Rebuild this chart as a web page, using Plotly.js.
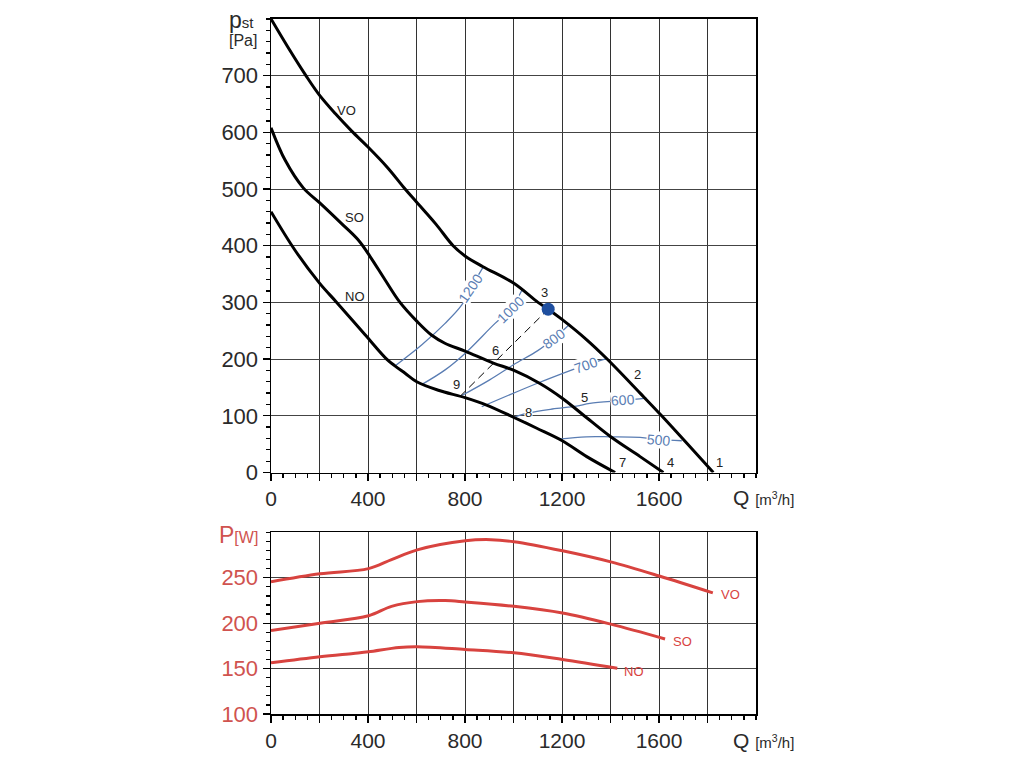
<!DOCTYPE html>
<html>
<head>
<meta charset="utf-8">
<script src="https://cdn.plot.ly/plotly-3.0.1.min.js"></script>
<style>
  html, body { margin: 0; padding: 0; background: #fff; }
  #myDiv { width: 1024px; height: 768px; }
</style>
</head>
<body>
<div id="myDiv"></div>
<script>
// pressure curves, Q [m3/h] -> pst [Pa]
var qVO = [0, 70, 144, 199, 265, 333, 400, 480, 553, 600, 680, 751, 800, 874, 1000, 1101, 1143, 1200, 1302, 1384, 1522, 1611, 1824];
var pVO = [800, 750, 700, 666, 633, 602, 574, 538, 500, 477, 438, 400, 382, 363, 334, 300, 288, 270, 234, 201, 140, 100, 0];

var qSO = [0, 58, 133, 200, 291, 360, 410, 470, 532, 601, 663, 717, 800, 917, 1002, 1109, 1201, 1289, 1401, 1522, 1618];
var pSO = [608, 551, 502, 476, 439, 410, 380, 340, 300, 267, 242, 228, 214, 193, 180, 157, 131, 101, 63, 28, 0];

var qNO = [0, 99, 200, 271, 388, 477, 511, 553, 601, 690, 800, 889, 1002, 1096, 1201, 1302, 1419];
var pNO = [460, 392, 334, 300, 243, 200, 188, 175, 160, 145, 132, 119, 97, 78, 56, 28, 0];

// blue iso lines
var q1200 = [511, 621, 718, 786, 824, 876];
var p1200 = [188, 225, 263, 295, 325, 363];
var q1000 = [621, 718, 800, 924, 986, 1038];
var p1000 = [155, 181, 210, 263, 287, 324];
var q800 = [779, 900, 1000, 1100, 1165, 1233];
var p800 = [134, 163, 190, 215, 236, 262];
var q700 = [869, 1096, 1247, 1299, 1384];
var p700 = [116, 157, 182, 190, 201];
var q600 = [1000, 1061, 1160, 1260, 1315, 1453, 1549];
var p600 = [97, 105, 112, 117, 122, 127, 131];
var q500 = [1185, 1300, 1400, 1522, 1601, 1694];
var p500 = [59, 63, 63, 62, 58, 56];

// dashed 9 -> 3 and the working point
var qDash = [779, 1143];
var pDash = [134, 288];
var qPoint = [1143];
var pPoint = [288];

// power curves, Q -> P [W]
var qPVO = [0, 202, 402, 497, 603, 801, 907, 1002, 1202, 1401, 1601, 1822];
var wVO = [245.6, 254.4, 260, 270, 280.7, 290.7, 291.9, 289.6, 279.6, 267.4, 251.9, 233.3];
var qPSO = [0, 202, 402, 497, 603, 718, 801, 1002, 1202, 1401, 1625];
var wSO = [191.9, 200, 208.1, 218.5, 223.7, 224.8, 223.3, 218.5, 211.1, 198.9, 182.6];
var qPNO = [0, 202, 339, 402, 528, 603, 801, 1002, 1202, 1428];
var wNO = [156.3, 163, 166.7, 168.5, 173.3, 174.1, 171.1, 167.4, 160, 150.4];

var qTicks = [0, 200, 400, 600, 800, 1000, 1200, 1400, 1600, 1800];
var qLabels = ['0', ' ', '400', ' ', '800', ' ', '1200', ' ', '1600', ' '];
var pTicks = [0, 100, 200, 300, 400, 500, 600, 700];
var wTicks = [100, 150, 200, 250];

var BLUE = '#5a7db3';
var RED = '#d8433f';
var FONT = 'Liberation Sans, Arial, sans-serif';

function blk(x, y) {
  return {x: x, y: y, mode: 'lines', type: 'scatter', hoverinfo: 'skip',
          line: {color: '#000', width: 3, shape: 'spline', smoothing: 1}};
}
function iso(x, y) {
  return {x: x, y: y, mode: 'lines', type: 'scatter', hoverinfo: 'skip',
          line: {color: BLUE, width: 1.3, shape: 'spline', smoothing: 1}};
}
function pw(x, y) {
  return {x: x, y: y, xaxis: 'x2', yaxis: 'y2', mode: 'lines', type: 'scatter',
          line: {color: RED, width: 3, shape: 'spline', smoothing: 1}};
}

var data = [
  iso(q1200, p1200), iso(q1000, p1000), iso(q800, p800),
  iso(q700, p700), iso(q600, p600), iso(q500, p500),
  {x: qDash, y: pDash, mode: 'lines', type: 'scatter',
   line: {color: '#000', width: 1, dash: '8px,5px'}},
  blk(qVO, pVO), blk(qSO, pSO), blk(qNO, pNO),
  {x: qPoint, y: pPoint, mode: 'markers', type: 'scatter',
   marker: {color: '#1f4f9f', size: 13}},
  pw(qPVO, wVO), pw(qPSO, wSO), pw(qPNO, wNO)
];

function xax(anchor) {
  return {
    domain: [271 / 1024, 756 / 1024], range: [0, 2000], anchor: anchor,
    tickmode: 'array', tickvals: qTicks, ticktext: qLabels,
    showgrid: true, gridcolor: '#333', gridwidth: 1, zeroline: false,
    showline: true, linecolor: '#000', linewidth: 1.5, mirror: true,
    ticks: 'outside', ticklen: 7, tickcolor: '#000', tickwidth: 1.3,
    minor: {tickmode: 'linear', tick0: 0, dtick: 50, ticks: 'outside', ticklen: 4,
            tickcolor: '#000', showgrid: false},
    tickfont: {family: FONT, size: 21, color: '#2a2a2a'}
  };
}

var annFont = {family: FONT, size: 13, color: '#222'};
function lab(t, x, y) {
  return {text: t, x: x, y: y, xref: 'x', yref: 'y', showarrow: false, font: annFont};
}
function isoLab(t, x, y, a) {
  return {text: t, x: x, y: y, xref: 'x', yref: 'y', showarrow: false, textangle: a,
          bgcolor: '#fff', borderpad: 0,
          font: {family: FONT, size: 14, color: BLUE}};
}
function redLab(t, x, y) {
  return {text: t, x: x, y: y, xref: 'x2', yref: 'y2', showarrow: false,
          font: {family: FONT, size: 13, color: RED}};
}

var qTitle = 'Q <span style="font-size:15px">[m<sup>3</sup>/h]</span>';

var layout = {
  width: 1024, height: 768,
  margin: {l: 0, r: 0, t: 0, b: 0},
  paper_bgcolor: '#fff', plot_bgcolor: '#fff',
  showlegend: false,
  xaxis: xax('y'),
  xaxis2: xax('y2'),
  yaxis: {
    domain: [(768 - 472.5) / 768, (768 - 18.9) / 768], range: [0, 800],
    tickmode: 'array', tickvals: pTicks,
    showgrid: true, gridcolor: '#444', gridwidth: 1, zeroline: false,
    showline: true, linecolor: '#000', linewidth: 1.5, mirror: true,
    ticks: 'outside', ticklen: 7, tickcolor: '#000', tickwidth: 1.3,
    minor: {tickmode: 'linear', tick0: 0, dtick: 20, ticks: 'outside', ticklen: 4,
            tickcolor: '#000', showgrid: false},
    tickfont: {family: FONT, size: 22, color: '#2a2a2a'}
  },
  yaxis2: {
    domain: [(768 - 714) / 768, (768 - 532.3) / 768], range: [100, 300],
    anchor: 'x2',
    tickmode: 'array', tickvals: wTicks,
    showgrid: true, gridcolor: '#444', gridwidth: 1, zeroline: false,
    showline: true, linecolor: '#000', linewidth: 1.5, mirror: true,
    ticks: 'outside', ticklen: 7, tickcolor: '#000', tickwidth: 1.3,
    minor: {tickmode: 'linear', tick0: 100, dtick: 10, ticks: 'outside', ticklen: 4,
            tickcolor: '#000', showgrid: false},
    tickfont: {family: FONT, size: 22, color: '#d0534f'}
  },
  annotations: [
    lab('VO', 313, 638), lab('SO', 346, 450), lab('NO', 346, 310),
    lab('1', 1851, 17), lab('2', 1512, 172), lab('3', 1126, 317),
    lab('4', 1648, 17), lab('5', 1291, 132), lab('6', 924, 216),
    lab('7', 1450, 17), {text: '8', x: 1061, y: 105, xref: 'x', yref: 'y', showarrow: false,
                         bgcolor: '#fff', borderpad: 0, font: annFont},
    lab('9', 763, 155),
    isoLab('1200', 824, 325, -55), isoLab('1000', 986, 287, -45),
    isoLab('800', 1165, 236, -36), isoLab('700', 1299, 190, -20),
    isoLab('600', 1453, 127, -4), isoLab('500', 1601, 58, 5),
    redLab('VO', 1893, 231.5), redLab('SO', 1696, 179.6), redLab('NO', 1498, 147),
    {text: 'p<span style="font-size:15px">st</span>',
     x: 227 / 1024, y: (768 - 20) / 768, xref: 'paper', yref: 'paper',
     xanchor: 'left', yanchor: 'middle', showarrow: false,
     font: {family: FONT, size: 23, color: '#2a2a2a'}},
    {text: '[Pa]', x: 227 / 1024, y: (768 - 40) / 768, xref: 'paper', yref: 'paper',
     xanchor: 'left', yanchor: 'middle', showarrow: false,
     font: {family: FONT, size: 16, color: '#2a2a2a'}},
    {text: 'P<span style="font-size:16px">[W]</span>',
     x: 260 / 1024, y: (768 - 535) / 768, xref: 'paper', yref: 'paper',
     xanchor: 'right', yanchor: 'middle', showarrow: false,
     font: {family: FONT, size: 23, color: '#d0534f'}},
    {text: qTitle, x: 731 / 1024, y: (768 - 497) / 768, xref: 'paper', yref: 'paper',
     xanchor: 'left', yanchor: 'middle', showarrow: false,
     font: {family: FONT, size: 21, color: '#2a2a2a'}},
    {text: qTitle, x: 731 / 1024, y: (768 - 740) / 768, xref: 'paper', yref: 'paper',
     xanchor: 'left', yanchor: 'middle', showarrow: false,
     font: {family: FONT, size: 21, color: '#2a2a2a'}}
  ]
};

Plotly.newPlot('myDiv', data, layout, {staticPlot: true});
</script>
</body>
</html>
